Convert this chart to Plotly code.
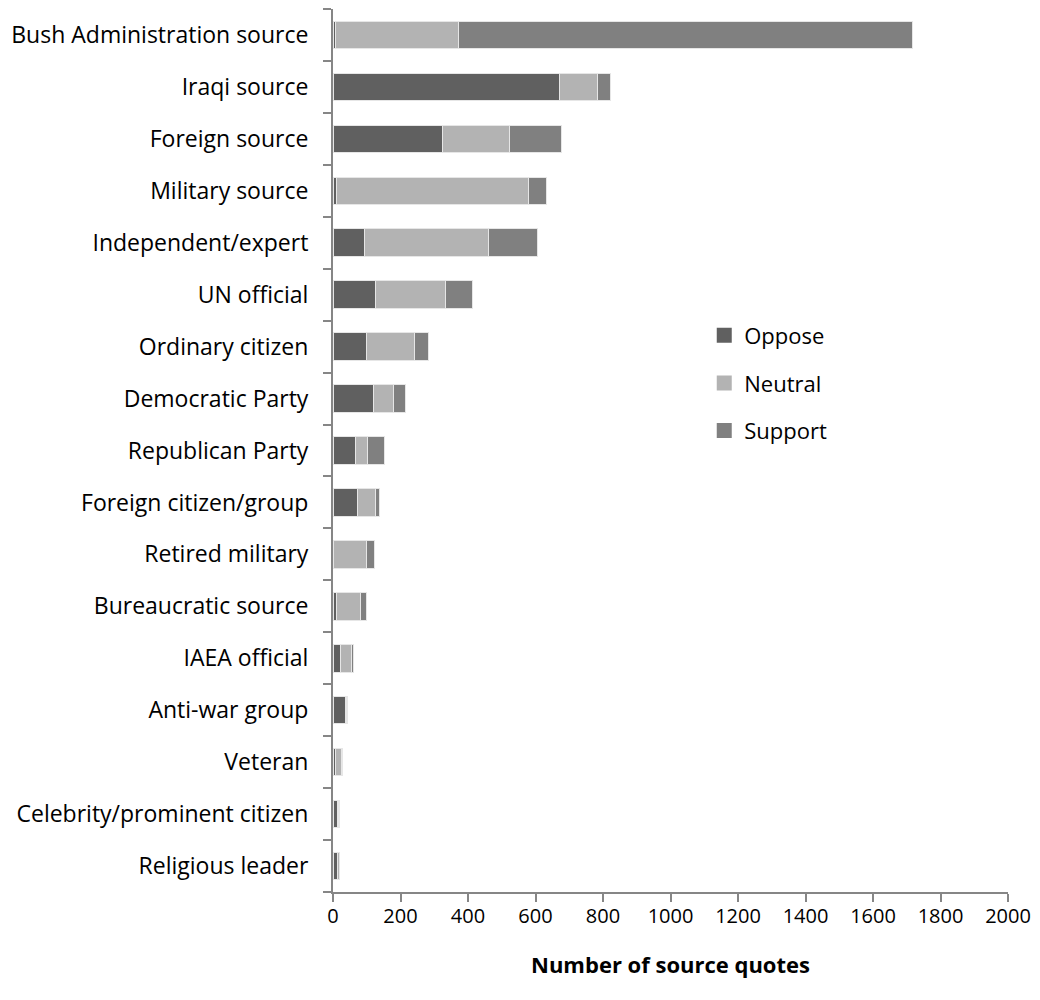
import plotly.graph_objects as go

# Source categories, top to bottom
categories = [
    "Bush Administration source", "Iraqi source", "Foreign source",
    "Military source", "Independent/expert", "UN official",
    "Ordinary citizen", "Democratic Party", "Republican Party",
    "Foreign citizen/group", "Retired military", "Bureaucratic source",
    "IAEA official", "Anti-war group", "Veteran",
    "Celebrity/prominent citizen", "Religious leader",
]

# Quote counts by stance toward the war
oppose = [8, 672, 323, 9, 94, 127, 99, 121, 68, 74, 0, 9, 22, 38, 8, 12, 14]
neutral = [364, 111, 200, 569, 368, 205, 142, 59, 34, 53, 100, 71, 32, 2, 18, 4, 5]
support = [1346, 38, 154, 54, 144, 80, 41, 34, 51, 11, 22, 20, 8, 2, 1, 4, 1]

series = [
    ("Oppose", oppose, "#606060"),
    ("Neutral", neutral, "#b3b3b3"),
    ("Support", support, "#808080"),
]

x_ticks = list(range(0, 2001, 200))

FONT = "'Open Sans', Lato, sans-serif"
AXIS_GREY = "#868686"

fig = go.Figure()
for name, vals, color in series:
    fig.add_trace(go.Bar(
        y=categories,
        x=vals,
        name=name,
        orientation="h",
        marker=dict(color=color, line=dict(color="#e6e6e6", width=1)),
        legendgroup=name,
        showlegend=False,
    ))
    # square legend key
    fig.add_trace(go.Scatter(
        x=[None], y=[None],
        mode="markers",
        name=name,
        marker=dict(symbol="square", size=15, color=color),
        legendgroup=name,
        showlegend=True,
    ))

fig.update_layout(
    width=1040,
    height=1000,
    barmode="stack",
    bargap=0.47,
    plot_bgcolor="white",
    paper_bgcolor="white",
    font=dict(family=FONT, size=20, color="black"),
    margin=dict(l=333, r=30, t=9, b=108),
    showlegend=True,
    legend=dict(
        x=0.55, y=0.654, xanchor="left", yanchor="top",
        traceorder="grouped", tracegroupgap=16,
        font=dict(family=FONT, size=22, color="black"),
        bgcolor="rgba(0,0,0,0)",
        itemwidth=30,
    ),
    xaxis=dict(
        range=[0, 2000],
        tickvals=x_ticks,
        ticktext=[str(v) for v in x_ticks],
        ticks="outside", ticklen=8, tickcolor=AXIS_GREY, tickwidth=2,
        showline=True, linecolor=AXIS_GREY, linewidth=2,
        showgrid=False, zeroline=False,
        title=dict(text="<b>Number of source quotes</b>", standoff=30,
                   font=dict(family=FONT, size=22)),
        tickfont=dict(family=FONT, size=20),
        ticklabelstandoff=-3,
    ),
    yaxis=dict(
        categoryorder="array",
        categoryarray=categories[::-1],
        tickson="boundaries",
        ticks="outside", ticklen=8, tickcolor=AXIS_GREY, tickwidth=2,
        showline=True, linecolor=AXIS_GREY, linewidth=2,
        showgrid=False, zeroline=False,
        tickfont=dict(family=FONT, size=23),
        ticklabelstandoff=18,
    ),
)

fig.write_html("out.html")
